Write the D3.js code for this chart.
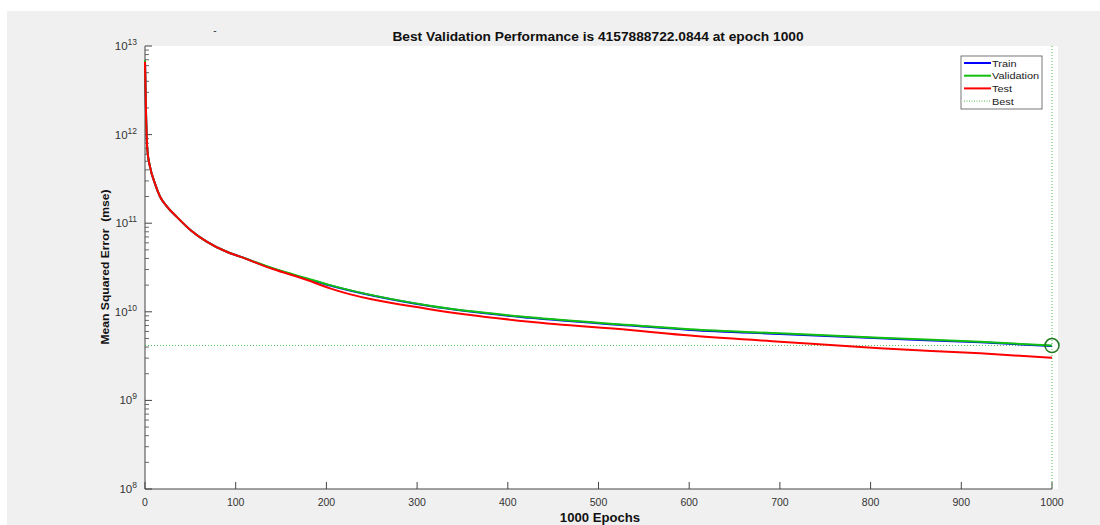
<!DOCTYPE html>
<html><head><meta charset="utf-8">
<script src="https://cdn.jsdelivr.net/npm/d3@7"></script>
<style>
html,body{margin:0;padding:0;background:#fff;}
svg{display:block;font-family:"Liberation Sans",Arial,sans-serif;}
</style></head>
<body><svg id="c" width="1100" height="525"></svg>
<script>
const epochs     = [0, 1, 2.6, 5.5, 11, 16.5, 24, 35, 50, 68, 90, 105, 141, 178, 204, 314, 424, 535, 601, 700, 810, 921, 1000];
const trainMse   = [6.7e12, 2.0e12, 6.7e11, 4.35e11, 2.8e11, 2.0e11, 1.55e11, 1.18e11, 8.4e10, 6.2e10, 4.76e10, 4.19e10, 3.07e10, 2.36e10, 1.98e10, 1.16e10, 8.55e9, 7.0e9, 6.25e9, 5.62e9, 5.02e9, 4.52e9, 4.10e9];
const valMse     = [6.9e12, 2.0e12, 6.7e11, 4.35e11, 2.8e11, 2.0e11, 1.55e11, 1.18e11, 8.4e10, 6.2e10, 4.76e10, 4.19e10, 3.1e10, 2.39e10, 2.0e10, 1.17e10, 8.67e9, 7.1e9, 6.34e9, 5.71e9, 5.1e9, 4.59e9, 4157888722.0844];
const testMse    = [6.65e12, 2.0e12, 6.7e11, 4.35e11, 2.8e11, 2.0e11, 1.55e11, 1.18e11, 8.4e10, 6.2e10, 4.76e10, 4.19e10, 3.04e10, 2.3e10, 1.84e10, 1.07e10, 7.73e9, 6.24e9, 5.4e9, 4.6e9, 3.87e9, 3.4e9, 3.03e9];
const bestEpoch  = 1000;
const bestValue  = 4157888722.0844;
const xTicks     = [0,100,200,300,400,500,600,700,800,900,1000];
const yTickExps  = [8,9,10,11,12,13];
const legendNames = ["Train","Validation","Test","Best"];
const titleText  = "Best Validation Performance is 4157888722.0844 at epoch 1000";
const xLabelText = "1000 Epochs";
const yLabelText = "Mean Squared Error  (mse)";

const svg = d3.select("#c");
function stretch(sel,f){
  sel.each(function(){
    const w=this.getComputedTextLength();
    d3.select(this).attr("textLength",w*f).attr("lengthAdjust","spacingAndGlyphs");
  });
  return sel;
}
svg.append("rect").attr("x",7).attr("y",11).attr("width",1093).attr("height",514).attr("fill","#f0f0f0");

const L=145, R=1052, T=46, B=489;
svg.append("rect").attr("x",L).attr("y",T).attr("width",1058-L).attr("height",B-T).attr("fill","#fff");

const x = d3.scaleLinear().domain([0,1000]).range([L,R]);
const y = d3.scaleLog().domain([1e8,1e13]).range([B,T]);

const axisCol="#444";
svg.append("line").attr("x1",L).attr("x2",R).attr("y1",B).attr("y2",B).attr("stroke",axisCol).attr("stroke-width",1);
svg.append("line").attr("x1",L).attr("x2",L).attr("y1",T).attr("y2",B).attr("stroke",axisCol).attr("stroke-width",1);

const gx = svg.append("g");
xTicks.forEach(t=>{
  gx.append("line").attr("x1",x(t)).attr("x2",x(t)).attr("y1",B).attr("y2",B-7).attr("stroke",axisCol);
  gx.append("text").attr("x",x(t)).attr("y",B+17).attr("text-anchor","middle")
    .attr("font-size",10.5).attr("fill","#333").text(t);
});

const gy = svg.append("g");
yTickExps.forEach(e=>{
  const v=Math.pow(10,e);
  gy.append("line").attr("x1",L).attr("x2",L+7).attr("y1",y(v)).attr("y2",y(v)).attr("stroke",axisCol);
  const t=gy.append("text").attr("x",L-8).attr("y",y(v)+4).attr("text-anchor","end").attr("fill","#333").attr("font-size",11.5);
  t.append("tspan").text("10");
  t.append("tspan").attr("dy",-5).attr("font-size",8.5).text(e);
  if(e<13){
    for(let m=2;m<=9;m++){
      const mv=m*v;
      gy.append("line").attr("x1",L).attr("x2",L+4).attr("y1",y(mv)).attr("y2",y(mv)).attr("stroke",axisCol).attr("stroke-width",0.8);
    }
  }
});

const bestCol="#4cbb4c";
svg.append("line").attr("x1",L).attr("x2",x(bestEpoch)).attr("y1",y(bestValue)).attr("y2",y(bestValue))
  .attr("stroke",bestCol).attr("stroke-width",1).attr("stroke-dasharray","1,2");
svg.append("line").attr("x1",x(bestEpoch)).attr("x2",x(bestEpoch)).attr("y1",T).attr("y2",B)
  .attr("stroke",bestCol).attr("stroke-width",1).attr("stroke-dasharray","1,2");

const colors={Train:"#0000ff",Validation:"#11c011",Test:"#ff0000"};
function draw(vals,col){
  const line=d3.line().x((d,i)=>x(epochs[i])).y(d=>y(d)).curve(d3.curveMonotoneX);
  svg.append("path").datum(vals).attr("d",line).attr("fill","none").attr("stroke",col).attr("stroke-width",2);
}
draw(trainMse,colors.Train);
draw(valMse,colors.Validation);
draw(testMse,colors.Test);

svg.append("circle").attr("cx",x(bestEpoch)).attr("cy",y(bestValue)).attr("r",7)
  .attr("fill","none").attr("stroke","#1f7a1f").attr("stroke-width",1.5);

const lg=svg.append("g");
lg.append("rect").attr("x",961).attr("y",56).attr("width",81).attr("height",53).attr("fill","#fff").attr("stroke","#555").attr("stroke-width",0.8);
legendNames.forEach((n,i)=>{
  const yy=63+i*12.7;
  const ln=lg.append("line").attr("x1",964).attr("x2",991).attr("y1",yy).attr("y2",yy);
  if(n==="Best") ln.attr("stroke",bestCol).attr("stroke-width",1).attr("stroke-dasharray","1,1.5");
  else ln.attr("stroke",colors[n]).attr("stroke-width",2);
  stretch(lg.append("text").attr("x",992).attr("y",yy+3.5).attr("font-size",9.5).attr("fill","#222").text(n),1.15);
});

stretch(svg.append("text").attr("x",598).attr("y",41).attr("text-anchor","middle").attr("font-weight","bold")
  .attr("font-size",12.5).attr("fill","#111").text(titleText),1.1);
stretch(svg.append("text").attr("x",600).attr("y",522).attr("text-anchor","middle").attr("font-weight","bold")
  .attr("font-size",12.5).attr("fill","#111").text(xLabelText),1.05);
svg.append("text").attr("transform","translate(109,267) rotate(-90)").attr("text-anchor","middle").attr("font-weight","bold")
  .attr("font-size",11.5).attr("fill","#111").attr("textLength",155).attr("lengthAdjust","spacingAndGlyphs")
  .style("white-space","pre").text(yLabelText);
svg.append("text").attr("x",215).attr("y",34).attr("text-anchor","middle").attr("font-size",10).attr("fill","#333").text("-");
</script></body></html>
